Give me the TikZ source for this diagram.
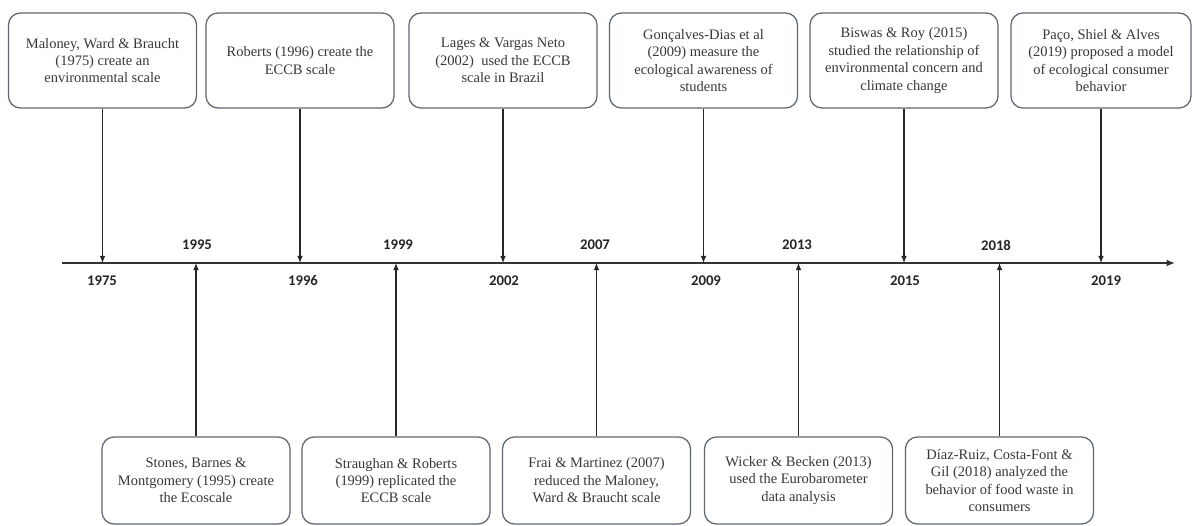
\documentclass[tikz,border=0pt]{standalone}
\usepackage{fontspec}
\setmainfont{Liberation Serif}
\newfontfamily\yearfont{Carlito}
\usetikzlibrary{arrows.meta,positioning}
\definecolor{boxgray}{RGB}{95,103,112}
\definecolor{textgray}{RGB}{55,55,55}

\begin{document}
\begin{tikzpicture}[x=0.025cm, y=-0.025cm,
    event/.style={draw=boxgray, line width=0.9pt, rounded corners=0.3cm,
      align=center, text=textgray, inner sep=2pt,
      font=\fontsize{10.3}{12.4}\selectfont,
      minimum width=4.7cm, minimum height=2.375cm},
    lowevent/.style={event, minimum height=2.175cm},
    year/.style={font=\yearfont\bfseries\fontsize{10.5}{12}\selectfont,
      text=black!85, inner sep=0pt},
    tick/.style={-{Latex[length=5pt,width=4pt]}, line width=0.8pt, black!85}]
  \useasboundingbox (0,0) rectangle (1192,526);

  % Timeline
  \coordinate (ax0) at (62,263);
  \coordinate (ax1) at (1175,263);
  \draw[-{Latex[length=6pt,width=5pt]}, line width=1.3pt, black!80] (ax0) -- (ax1);

  % Boxes above the line
  \node[event] (maloney) at (102.5,60.5)
    {Maloney, Ward \& Braucht\\(1975) create an\\environmental scale};
  \node[event] (roberts) at (300,60.5)
    {Roberts (1996) create the\\ECCB scale};
  \node[event] (lages) at (503,60.5)
    {Lages \& Vargas Neto\\(2002)\ \ used the ECCB\\scale in Brazil};
  \node[event] (goncalves) at (703.5,60.5)
    {Gonçalves-Dias et al\\(2009) measure the\\ecological awareness of\\students};
  \node[event] (biswas) at (904,60.5)
    {Biswas \& Roy (2015)\\studied the relationship of\\environmental concern and\\climate change};
  \node[event, minimum width=4.5cm] (paco) at (1101,60.5)
    {Paço, Shiel \& Alves\\(2019) proposed a model\\of ecological consumer\\behavior};

  % Boxes below the line
  \node[lowevent] (stones) at (196,480.5)
    {Stones, Barnes \&\\Montgomery (1995) create\\the Ecoscale};
  \node[lowevent] (straughan) at (396,480.5)
    {Straughan \& Roberts\\(1999) replicated the\\ECCB scale};
  \node[lowevent] (frai) at (596.5,480.5)
    {Frai \& Martinez (2007)\\reduced the Maloney,\\Ward \& Braucht scale};
  \node[lowevent] (wicker) at (798.5,480.5)
    {Wicker \& Becken (2013)\\used the Eurobarometer\\data analysis};
  \node[lowevent] (diaz) at (999.5,480.5)
    {Díaz-Ruiz, Costa-Font \&\\Gil (2018) analyzed the\\behavior of food waste in\\consumers};

  % Arrows
  \draw[tick] (maloney.south) -- (maloney.south |- ax0);
  \draw[tick] (roberts.south) -- (roberts.south |- ax0);
  \draw[tick] (lages.south) -- (lages.south |- ax0);
  \draw[tick] (goncalves.south) -- (goncalves.south |- ax0);
  \draw[tick] (biswas.south) -- (biswas.south |- ax0);
  \draw[tick] (paco.south) -- (paco.south |- ax0);
  \draw[tick] (stones.north) -- (stones.north |- ax0);
  \draw[tick] (straughan.north) -- (straughan.north |- ax0);
  \draw[tick] (frai.north) -- (frai.north |- ax0);
  \draw[tick] (wicker.north) -- (wicker.north |- ax0);
  \draw[tick] (diaz.north) -- (diaz.north |- ax0);

  % Years
  \node[year] (y1975) at (102,281) {1975};
  \node[year] (y1995) at (197,245) {1995};
  \node[year] (y1996) at (303,281) {1996};
  \node[year] (y1999) at (398,245) {1999};
  \node[year] (y2002) at (504,281) {2002};
  \node[year] (y2007) at (595,245) {2007};
  \node[year] (y2009) at (706,281) {2009};
  \node[year] (y2013) at (797,245) {2013};
  \node[year] (y2015) at (905,281) {2015};
  \node[year] (y2018) at (996,245) {2018};
  \node[year] (y2019) at (1106,281) {2019};
\end{tikzpicture}
\end{document}
